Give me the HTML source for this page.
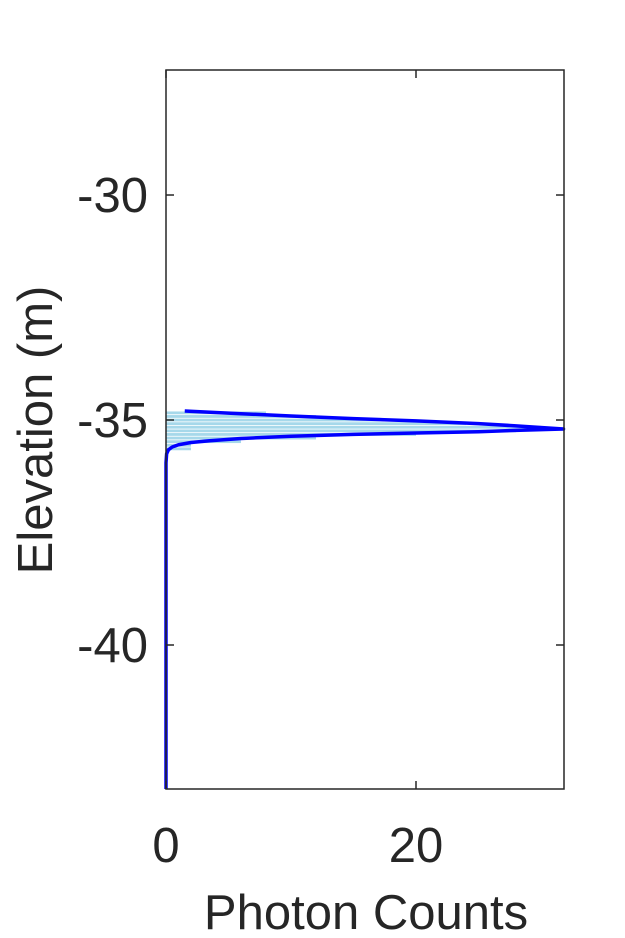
<!DOCTYPE html>
<html><head><meta charset="utf-8"><style>
body{margin:0;background:#fff;}
svg{display:block;font-family:"Liberation Sans",Arial,sans-serif;}
</style></head><body>
<svg id="chart" width="625" height="938">
<rect x="0" y="0" width="625" height="938" fill="#fff"/>
<g id="bars"></g>
<g id="curve"></g>
<rect x="166" y="70" width="398" height="719" fill="none" stroke="#262626" stroke-width="1.5"/>
<g id="ticks"></g>
<text x="52" y="430" font-size="49" fill="#262626" text-anchor="middle" transform="rotate(-90 52 430)">Elevation (m)</text>
<text x="366" y="929" font-size="49" fill="#262626" text-anchor="middle">Photon Counts</text>
</svg>
<script>
const binElev=[-34.85,-34.93,-35.01,-35.09,-35.17,-35.25,-35.33,-35.41,-35.49,-35.57,-35.65];
const binCounts=[8,12,18,24,30,28,20,12,6,2,2];
const curveCounts=[1.5,6,10,15,20,25,28,31.8,28,25,20,15,10,6,3.5,2,1,0.5,0.2,0.05,0,0];
const curveElev=[-34.8,-34.86,-34.91,-34.97,-35.02,-35.08,-35.13,-35.2,-35.23,-35.26,-35.29,-35.32,-35.36,-35.41,-35.46,-35.5,-35.55,-35.6,-35.66,-35.75,-35.95,-43.2];
const xTicks=[0,20];
const yTicks=[-30,-35,-40];
const X0=166,X1=564,xmin=0,xmax=31.84,Y0=70,Y1=789,ymax=-27.222,ymin=-43.2;
const xs=v=>X0+(v-xmin)/(xmax-xmin)*(X1-X0);
const ys=v=>Y0+(ymax-v)/(ymax-ymin)*(Y1-Y0);
const NS="http://www.w3.org/2000/svg";
const bars=document.getElementById('bars');
binElev.forEach((e,i)=>{
 const r=document.createElementNS(NS,'rect');
 const h=(ys(e-0.04)-ys(e+0.04))-0.8;
 r.setAttribute('x',X0);r.setAttribute('y',ys(e+0.04));
 r.setAttribute('width',xs(binCounts[i])-X0);r.setAttribute('height',h);
 r.setAttribute('fill','#a6d8ea');
 
 
 bars.appendChild(r);
});
const p=document.createElementNS(NS,'polyline');
p.setAttribute('points',curveCounts.map((c,i)=>xs(c)+','+ys(curveElev[i])).join(' '));
p.setAttribute('fill','none');p.setAttribute('stroke','#0000ff');p.setAttribute('stroke-width','3.5');p.setAttribute('stroke-linejoin','round');


document.getElementById('curve').appendChild(p);
const tk=document.getElementById('ticks');
xTicks.forEach(v=>{
 const x=xs(v);
 [[Y1,Y1-8],[Y0,Y0+8]].forEach(a=>{const l=document.createElementNS(NS,'line');l.setAttribute('x1',x);l.setAttribute('x2',x);l.setAttribute('y1',a[0]);l.setAttribute('y2',a[1]);l.setAttribute('stroke','#262626');l.setAttribute('stroke-width','1.5');
 
 
 tk.appendChild(l);});
 const t=document.createElementNS(NS,'text');t.setAttribute('x',x);t.setAttribute('y',862);t.setAttribute('font-size','49');t.setAttribute('fill','#262626');t.setAttribute('text-anchor','middle');t.textContent=v;
 
 
 tk.appendChild(t);
});
yTicks.forEach(v=>{
 const y=ys(v);
 [[X0,X0+8],[X1,X1-8]].forEach(a=>{const l=document.createElementNS(NS,'line');l.setAttribute('x1',a[0]);l.setAttribute('x2',a[1]);l.setAttribute('y1',y);l.setAttribute('y2',y);l.setAttribute('stroke','#262626');l.setAttribute('stroke-width','1.5');
 
 
 tk.appendChild(l);});
 const t=document.createElementNS(NS,'text');t.setAttribute('x',148);t.setAttribute('y',y+17);t.setAttribute('font-size','49');t.setAttribute('fill','#262626');t.setAttribute('text-anchor','end');t.textContent=v;
 
 
 tk.appendChild(t);
});
</script>
</body></html>
